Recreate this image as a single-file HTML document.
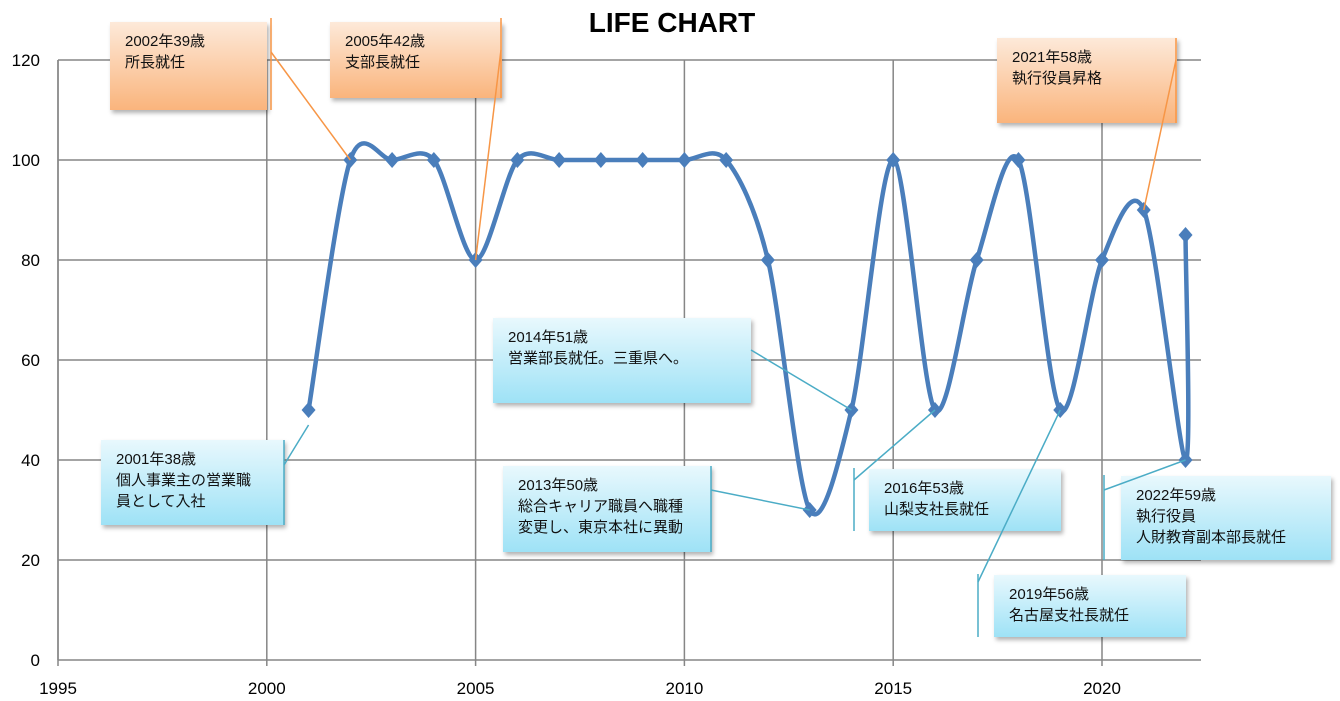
<!DOCTYPE html>
<html><head><meta charset="utf-8">
<style>
body{margin:0;background:#fff;}
svg{display:block;font-family:"Liberation Sans","Noto Sans CJK JP",sans-serif;}
</style></head><body>
<svg id="chart" width="1340" height="701" viewBox="0 0 1340 701">
<defs>
<linearGradient id="og" x1="0" y1="0" x2="0" y2="1"><stop offset="0" stop-color="#fde9d9"/><stop offset="1" stop-color="#fab47c"/></linearGradient>
<linearGradient id="bg" x1="0" y1="0" x2="0" y2="1"><stop offset="0" stop-color="#e8f8fd"/><stop offset="1" stop-color="#9ee2f6"/></linearGradient>
<filter id="sh" x="-10%" y="-10%" width="130%" height="130%"><feDropShadow dx="2" dy="3" stdDeviation="2" flood-color="#000" flood-opacity="0.3"/></filter>
</defs>
<text x="672" y="32" text-anchor="middle" font-size="28" font-weight="bold">LIFE CHART</text>
<g id="grid"></g><g id="axes"></g><g id="series"></g><g id="notes"></g>
</svg>
<script>
const years=[2001,2002,2003,2004,2005,2006,2007,2008,2009,2010,2011,2012,2013,2014,2015,2016,2017,2018,2019,2020,2021,2022,2022];
const scores=[50,100,100,100,80,100,100,100,100,100,100,80,30,50,100,50,80,100,50,80,90,40,85];
const xTicks=[1995,2000,2005,2010,2015,2020];
const yTicks=[0,20,40,60,80,100,120];
const NS="http://www.w3.org/2000/svg";
const X=v=>58+(v-1995)*(1102-58)/25;
const Y=v=>660-v*5;
function mk(t,a,p){const e=document.createElementNS(NS,t);for(const k in a)e.setAttribute(k,a[k]);p.appendChild(e);return e;}
const grid=document.getElementById('grid'),axes=document.getElementById('axes'),ser=document.getElementById('series'),notes=document.getElementById('notes');
yTicks.forEach(t=>{const l=mk('line',{x1:58,x2:1201,y1:Y(t),y2:Y(t),stroke:'#868686','stroke-width':1.5},grid);

const tx=mk('text',{x:40,y:Y(t)+6,'text-anchor':'end','font-size':17},axes);tx.textContent=t;
});
xTicks.forEach(t=>{const l=mk('line',{x1:X(t),x2:X(t),y1:60,y2:666,stroke:'#868686','stroke-width':1.5},grid);

const tx=mk('text',{x:X(t),y:694,'text-anchor':'middle','font-size':17},axes);tx.textContent=t;
});
const ax=mk('line',{x1:58,x2:58,y1:60,y2:660,stroke:'#868686','stroke-width':1.5},axes);

const P=years.map((y,i)=>[X(y),Y(scores[i])]);
let d='M'+P[0][0]+','+P[0][1];const tn=0.15;
for(let i=0;i<P.length-1;i++){const p0=P[Math.max(0,i-1)],p1=P[i],p2=P[i+1],p3=P[Math.min(P.length-1,i+2)];
d+=` C${p1[0]+(p2[0]-p0[0])*tn},${p1[1]+(p2[1]-p0[1])*tn} ${p2[0]-(p3[0]-p1[0])*tn},${p2[1]-(p3[1]-p1[1])*tn} ${p2[0]},${p2[1]}`;}
const ln=mk('path',{d:d,fill:'none',stroke:'#4a7ebb','stroke-width':4.5},ser);

P.forEach(p=>{const m=mk('path',{d:`M${p[0]},${p[1]-8}L${p[0]+7},${p[1]}L${p[0]},${p[1]+8}L${p[0]-7},${p[1]}Z`,fill:'#4a7ebb'},ser);
});
const callouts=[
[110,22,157,88,271,18,110,52,2002,100,'o',['2002年39歳','所長就任']],
[330,22,172,76,501,18,98,50,2005,80,'o',['2005年42歳','支部長就任']],
[997,38,180,85,1176,38,123,60,2021,90,'o',['2021年58歳','執行役員昇格']],
[493,318,258,85,null,0,0,350,2014,50,'b',['2014年51歳','営業部長就任。三重県へ。']],
[101,440,183,85,284,440,525,465,2001,47,'b',['2001年38歳','個人事業主の営業職','員として入社']],
[503,466,208,86,711,466,552,490,2013,30,'b',['2013年50歳','総合キャリア職員へ職種','変更し、東京本社に異動']],
[869,469,192,62,854,468,531,480,2016,50,'b',['2016年53歳','山梨支社長就任']],
[994,575,192,62,978,574,637,582,2019,50,'b',['2019年56歳','名古屋支社長就任']],
[1121,476,210,84,1104,475,560,490,2022,40,'b',['2022年59歳','執行役員','人財教育副本部長就任']]];
callouts.forEach(c=>{const [x,y,w,h,bx,b1,b2,ly,px,py,col,lines]=c;const sc=col=='o'?'#f79646':'#4bacc6';
const g=mk('g',{},notes);
mk('rect',{x:x,y:y,width:w,height:h,fill:`url(#${col}g)`,filter:'url(#sh)'},g);
const sx=bx===null?x+w:bx;
if(bx!==null)mk('line',{x1:bx,x2:bx,y1:b1,y2:b2,stroke:sc,'stroke-width':1.5},g);
mk('line',{x1:sx,y1:ly,x2:X(px),y2:Y(py),stroke:sc,'stroke-width':1.5},g);
lines.forEach((t,i)=>{const tx=mk('text',{x:x+15,y:y+24+i*21,'font-size':15,fill:'#111'},g);tx.textContent=t;});});
</script>
</body></html>
